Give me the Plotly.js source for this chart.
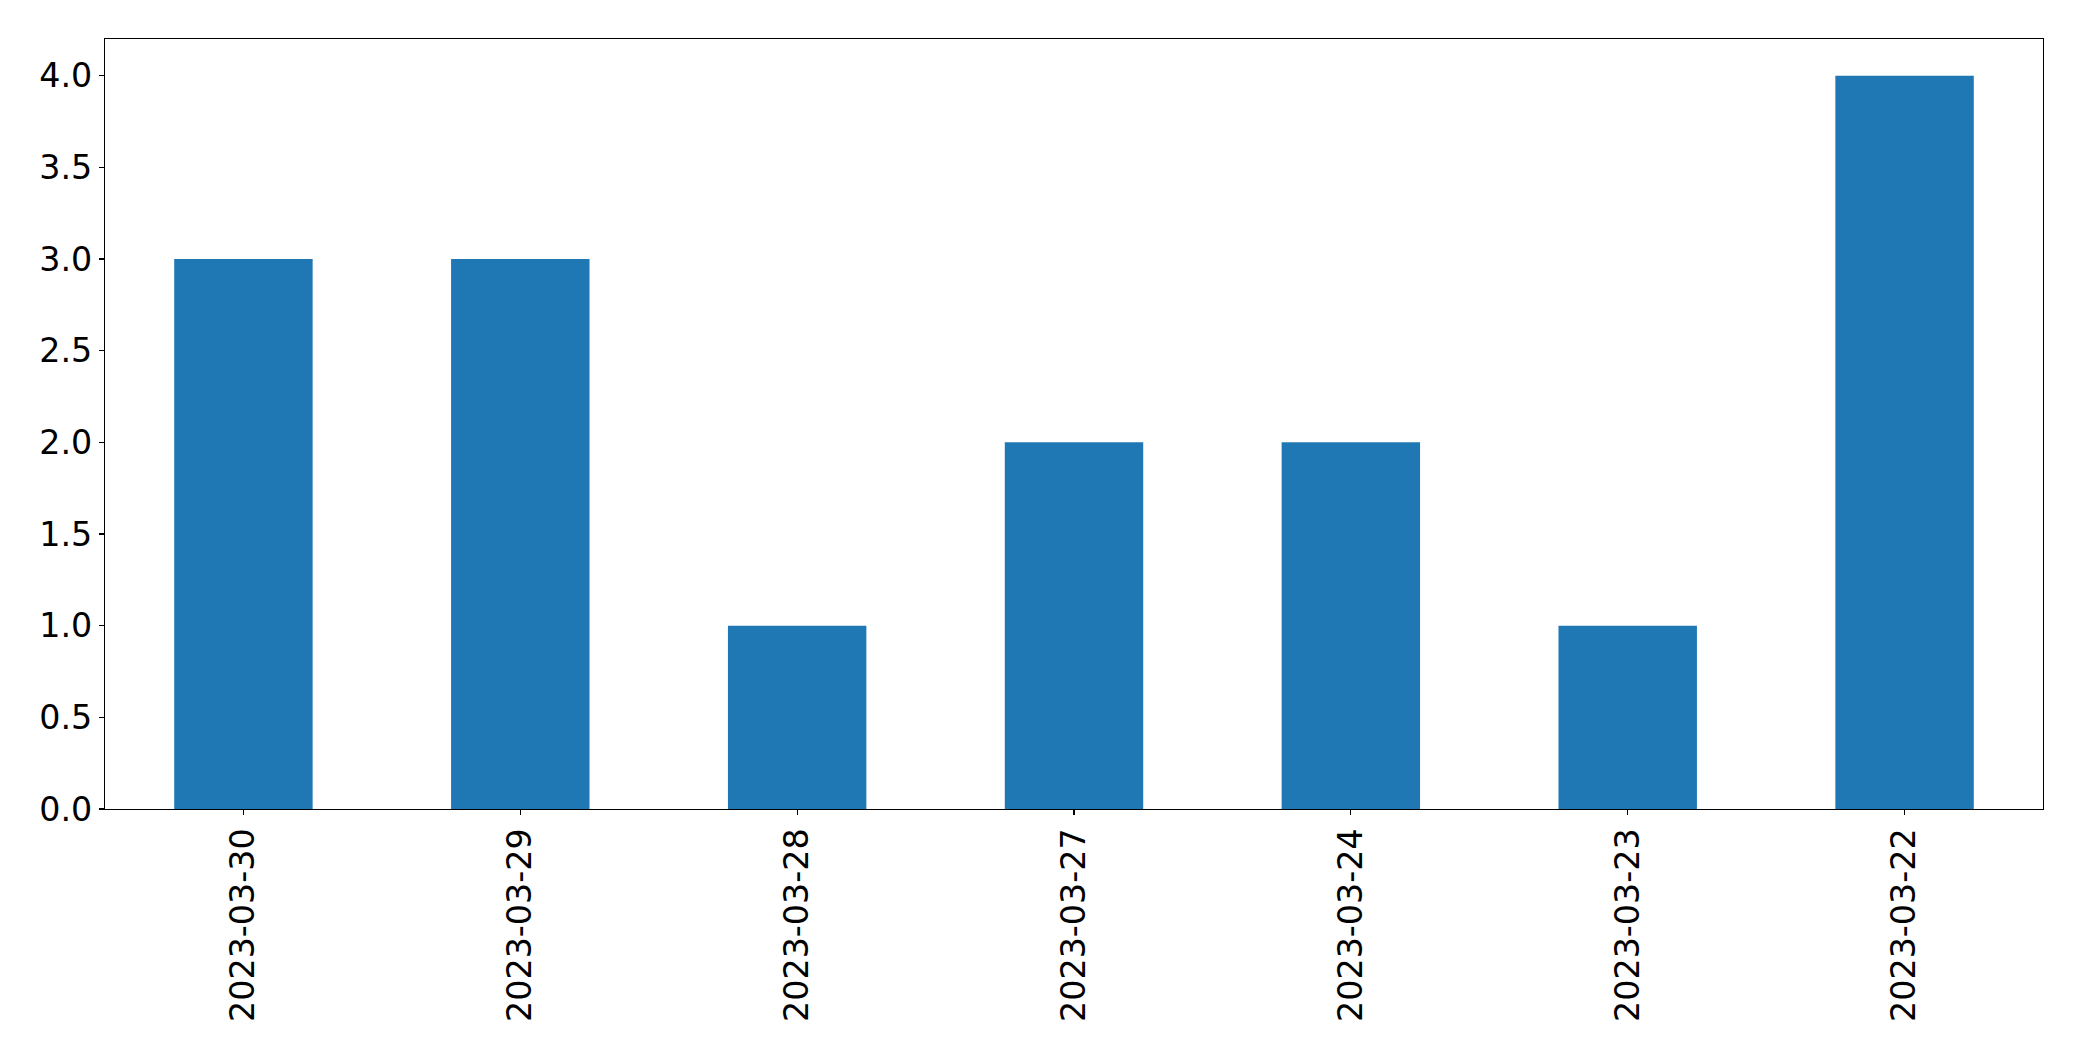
<!DOCTYPE html>
<html>
<head>
<meta charset="utf-8">
<script src="https://cdn.plot.ly/plotly-3.0.1.min.js"></script>
<style>html,body{margin:0;padding:0;background:#fff;}#chart{width:2082px;height:1061px;}</style>
</head>
<body>
<div id="chart"></div>
<script>
const dates = ["2023-03-30","2023-03-29","2023-03-28","2023-03-27","2023-03-24","2023-03-23","2023-03-22"];
const counts = [3, 3, 1, 2, 2, 1, 4];
const yTicks = [0, 0.5, 1, 1.5, 2, 2.5, 3, 3.5, 4];
const yTickText = ["0.0","0.5","1.0","1.5","2.0","2.5","3.0","3.5","4.0"];

const font = {family: "DejaVu Sans, sans-serif", size: 33.3, color: "#000"};

Plotly.newPlot("chart", [{
  type: "bar",
  x: dates,
  y: counts,
  width: 0.5,
  marker: {color: "#1f77b4", line: {width: 0}},
  hoverinfo: "x+y"
}], {
  width: 2082, height: 1061,
  margin: {l: 105, r: 39, t: 39, b: 252, pad: 0},
  paper_bgcolor: "#fff", plot_bgcolor: "#fff",
  showlegend: false,
  font: font,
  xaxis: {
    type: "category",
    range: [-0.5, 6.5],
    tickangle: -90,
    ticks: "outside", ticklen: 5, tickwidth: 1.1, tickcolor: "#000",
    showline: true, linecolor: "#000", linewidth: 1.1, mirror: true,
    showgrid: false, zeroline: false,
    tickfont: font
  },
  yaxis: {
    range: [0, 4.2],
    tickvals: yTicks, ticktext: yTickText,
    ticks: "outside", ticklen: 5, tickwidth: 1.1, tickcolor: "#000",
    showline: true, linecolor: "#000", linewidth: 1.1, mirror: true,
    showgrid: false, zeroline: false,
    tickfont: font
  }
}, {displayModeBar: false, staticPlot: true});
</script>
</body>
</html>
